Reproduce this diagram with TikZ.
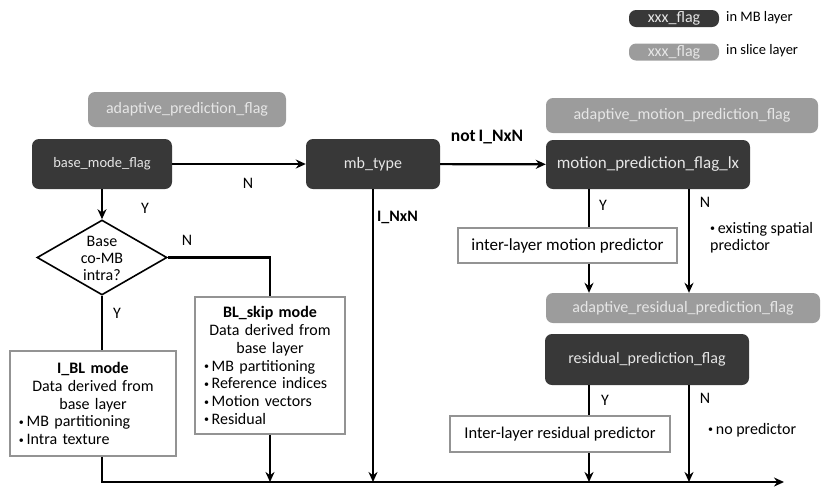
\documentclass[tikz,border=0pt]{standalone}
\usepackage{fontspec}
\setmainfont{Carlito}
\usetikzlibrary{arrows.meta,shapes.geometric}
\definecolor{darkfl}{HTML}{383838}
\definecolor{lightfl}{HTML}{9C9C9C}
\definecolor{flagtxt}{HTML}{E6E6E6}
\newcommand{\bul}{\raisebox{1.5pt}{\fontsize{10}{10}\selectfont\textbullet}\,}
\begin{document}
\begin{tikzpicture}[x=1pt,y=-1pt,
  mbflag/.style={fill=darkfl, rounded corners=7pt, text=flagtxt, font=\fontsize{16}{18}\selectfont, inner sep=0pt},
  slflag/.style={fill=lightfl, rounded corners=7pt, text=flagtxt, font=\fontsize{16}{18}\selectfont, inner sep=0pt},
  wbox/.style={draw=gray!85, line width=1.8pt, fill=white, inner sep=0pt, font=\fontsize{16}{17.8}\selectfont},
  conn/.style={line width=2.2pt},
  arr/.style={conn, -{Stealth[length=10pt,width=9pt]}},
  lab/.style={font=\fontsize{16}{18}\selectfont, inner sep=0pt},
  blab/.style={font=\fontsize{17.5}{19}\selectfont\bfseries, inner sep=0pt},
  note/.style={font=\fontsize{16}{17}\selectfont, inner sep=0pt, align=left}
]
\useasboundingbox (0,0) rectangle (822,491);

% legend
\node[mbflag, minimum width=90, minimum height=17] (lgmb) at (674,18.5) {xxx\_flag};
\node[note, anchor=west, font=\fontsize{14.5}{16}\selectfont] (lgmbt) at (726,18) {in MB layer};
\node[slflag, minimum width=90, minimum height=17] (lgsl) at (674,52) {xxx\_flag};
\node[note, anchor=west, font=\fontsize{14.5}{16}\selectfont] (lgslt) at (726,51) {in slice layer};

% flags
\node[slflag, minimum width=198, minimum height=35] (apf) at (187,109.5) {adaptive\_prediction\_flag};
\node[mbflag, minimum width=140, minimum height=50, font=\fontsize{14.5}{16}\selectfont] (bmf) at (102,164) {base\_mode\_flag};
\node[mbflag, minimum width=134, minimum height=50] (mbt) at (373,164) {mb\_type};
\node[slflag, minimum width=272, minimum height=35] (ampf) at (682,115.5) {adaptive\_motion\_prediction\_flag};
\node[mbflag, minimum width=204, minimum height=49, font=\fontsize{17}{18}\selectfont] (mpf) at (648,164.5) {motion\_prediction\_flag\_lx};
\node[wbox, minimum width=219, minimum height=35, font=\fontsize{17}{18}\selectfont] (imp) at (567.5,245.5) {inter-layer motion predictor};
\node[slflag, minimum width=274, minimum height=30] (arpf) at (683,308) {adaptive\_residual\_prediction\_flag};
\node[mbflag, minimum width=204, minimum height=51] (rpf) at (647,359.5) {residual\_prediction\_flag};
\node[wbox, minimum width=220, minimum height=36, font=\fontsize{16.5}{18}\selectfont] (irp) at (560,434) {Inter-layer residual predictor};

% decision
\node[diamond, draw, line width=1.6pt, minimum width=130, minimum height=75, inner sep=0pt] (dia) at (102,257.5) {};
\node[note, align=center] (diat) at (102,258) {Base\\co-MB\\intra?};

% mode boxes
\node[wbox, minimum width=166, minimum height=105, text width=148] (ibl) at (93,403.5)
  {{\centering\textbf{I\_BL mode}\\Data derived from\\base layer\par}\raggedright\bul MB partitioning\\\bul Intra texture\par};
\node[wbox, minimum width=150, minimum height=137, text width=132] (bsk) at (270,365.5)
  {{\centering\textbf{BL\_skip mode}\\Data derived from\\base layer\par}\raggedright\bul MB partitioning\\\bul Reference indices\\\bul Motion vectors\\\bul Residual\par};

% coordinates
\coordinate (b0) at (102,482);
\coordinate (bend) at (784,482);
\coordinate (xl) at (589,0);
\coordinate (xr) at (689,0);

% connectors
\draw[arr] (bmf) -- (mbt);
\draw[arr] (mbt) -- (mpf);
\draw[arr] (bmf) -- (dia);
\draw[conn] (dia.east) -| (bsk.north);
\draw[conn] (dia.south) -- (dia.south |- ibl.north);
\draw[arr] (dia.south |- ibl.south) -- (b0) -- (bend);
\draw[arr] (bsk.south) -- (bsk.south |- b0);
\draw[arr] (mbt.south) -- (mbt.south |- b0);
\draw[conn] (xl |- mpf.south) -- (xl |- imp.north);
\draw[arr] (xl |- imp.south) -- (xl |- arpf.north);
\draw[arr] (xr |- mpf.south) -- (xr |- arpf.north);
\draw[conn] (xl |- rpf.south) -- (xl |- irp.north);
\draw[arr] (xl |- irp.south) -- (xl |- b0);
\draw[arr] (xr |- rpf.south) -- (xr |- b0);

% labels
\node[lab] (l1) at (248,183) {N};
\node[lab] (l2) at (145,208) {Y};
\node[lab] (l3) at (187,240) {N};
\node[lab] (l4) at (117,313) {Y};
\node[blab, anchor=west, font=\fontsize{16}{18}\selectfont\bfseries] (l5) at (377,217) {I\_NxN};
\node[blab] (l6) at (487,137) {not\,I\_NxN};
\node[lab] (l7) at (603,205) {Y};
\node[lab] (l8) at (705,202) {N};
\node[note, anchor=north west] (l9) at (710,222) {\bul existing spatial\\predictor};
\node[lab] (l10) at (605,400) {Y};
\node[lab] (l11) at (705,398) {N};
\node[note, anchor=west] (l12) at (708,430) {\bul no predictor};
\end{tikzpicture}
\end{document}
